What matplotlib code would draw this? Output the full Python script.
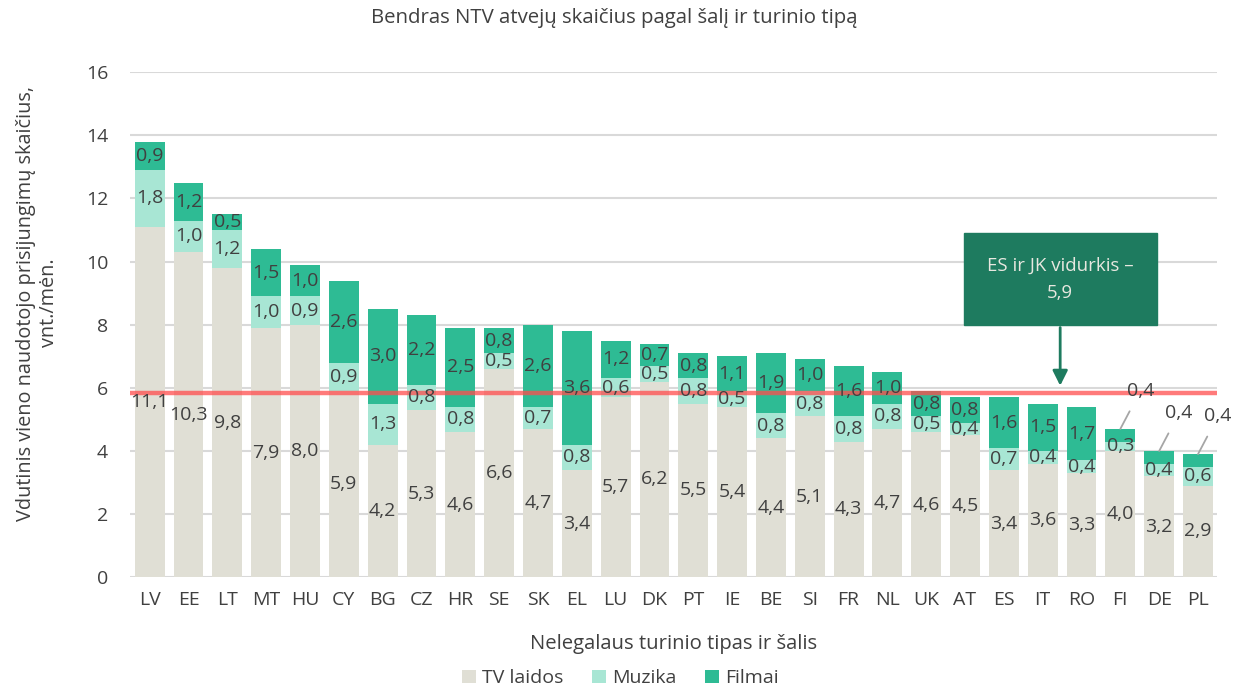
import numpy as np
import matplotlib.pyplot as plt

plt.rcParams['font.family'] = ['Open Sans', 'DejaVu Sans']

# Data
countries = ["LV", "EE", "LT", "MT", "HU", "CY", "BG", "CZ", "HR", "SE", "SK", "EL", "LU", "DK",
             "PT", "IE", "BE", "SI", "FR", "NL", "UK", "AT", "ES", "IT", "RO", "FI", "DE", "PL"]
tv = [11.1, 10.3, 9.8, 7.9, 8.0, 5.9, 4.2, 5.3, 4.6, 6.6, 4.7, 3.4, 5.7, 6.2,
      5.5, 5.4, 4.4, 5.1, 4.3, 4.7, 4.6, 4.5, 3.4, 3.6, 3.3, 4.0, 3.2, 2.9]
muzika = [1.8, 1.0, 1.2, 1.0, 0.9, 0.9, 1.3, 0.8, 0.8, 0.5, 0.7, 0.8, 0.6, 0.5,
          0.8, 0.5, 0.8, 0.8, 0.8, 0.8, 0.5, 0.4, 0.7, 0.4, 0.4, 0.3, 0.4, 0.6]
filmai = [0.9, 1.2, 0.5, 1.5, 1.0, 2.6, 3.0, 2.2, 2.5, 0.8, 2.6, 3.6, 1.2, 0.7,
          0.8, 1.1, 1.9, 1.0, 1.6, 1.0, 0.8, 0.8, 1.6, 1.5, 1.7, 0.4, 0.4, 0.4]
average = 5.85
average_label = "ES ir JK vidurkis –\n5,9"

c_tv = "#E0DFD5"
c_muz = "#A8E6D4"
c_film = "#2EBB94"
c_text = "#404040"

x = np.arange(len(countries))
tv = np.array(tv)
muzika = np.array(muzika)
filmai = np.array(filmai)

fig = plt.figure(figsize=(12.41, 6.88), dpi=100)
ax = fig.add_axes([0.105, 0.161, 0.876, 0.734])

w = 0.77
b1 = ax.bar(x, tv, w, color=c_tv, label="TV laidos", zorder=2)
b2 = ax.bar(x, muzika, w, bottom=tv, color=c_muz, label="Muzika", zorder=2)
b3 = ax.bar(x, filmai, w, bottom=tv + muzika, color=c_film, label="Filmai", zorder=2)

def fmt(v):
    return f"{v:.1f}".replace(".", ",")

fs = 14
for i in range(len(x)):
    ax.text(x[i], tv[i] / 2, fmt(tv[i]), ha="center", va="center", fontsize=fs, color=c_text, zorder=5)
    ax.text(x[i], tv[i] + muzika[i] / 2, fmt(muzika[i]), ha="center", va="center", fontsize=fs,
            color=c_text, zorder=5)
    if filmai[i] > 0.45:
        ax.text(x[i], tv[i] + muzika[i] + filmai[i] / 2, fmt(filmai[i]), ha="center", va="center",
                fontsize=fs, color=c_text, zorder=5)
    else:
        top = tv[i] + muzika[i] + filmai[i]
        ax.annotate(fmt(filmai[i]), xy=(x[i], top), xytext=(20, 38), textcoords="offset pixels",
                    ha="center", va="center", fontsize=fs, color=c_text, zorder=5,
                    arrowprops=dict(arrowstyle="-", color="#A6A6A6", lw=1.3, shrinkA=7, shrinkB=0))

# average line
ax.axhline(average, color="#FF4D4D", lw=3.2, alpha=0.75, zorder=4)

# callout box
ax.annotate("", xy=(23.45, 5.98), xytext=(23.45, 8.0),
            arrowprops=dict(arrowstyle="-|>,head_width=0.45,head_length=0.9", color="#1E7B5F", lw=2),
            zorder=6)
ax.text(23.45, 9.44, average_label, ha="center", va="center", fontsize=13.4, color="#E8E8E0",
        linespacing=1.7, zorder=7,
        bbox=dict(boxstyle="square,pad=1.25", facecolor="#1E7B5F", edgecolor="#1E7B5F"))

ax.set_xlim(-0.5, len(x) - 0.5)
ax.set_ylim(0, 16)
ax.set_yticks(np.arange(0, 17, 2))
ax.set_xticks(x)
ax.set_xticklabels(countries)
ax.tick_params(length=0, labelsize=14, colors=c_text)
ax.tick_params(axis="y", pad=16)
ax.tick_params(axis="x", pad=10)
ax.grid(axis="y", color="#D9D9D9", lw=1.5, zorder=0)
for s in ax.spines.values():
    s.set_visible(False)

ax.set_xlabel("Nelegalaus turinio tipas ir šalis", fontsize=14.6, color=c_text, labelpad=18)
ax.set_ylabel("Vdutinis vieno naudotojo prisijungimų skaičius,\nvnt./mėn.", fontsize=14.3,
              color=c_text)
ax.yaxis.set_label_coords(-0.066, 0.543)
fig.text(0.495, 0.974, "Bendras NTV atvejų skaičius pagal šalį ir turinio tipą", ha="center",
         va="center", fontsize=14.7, color=c_text)

fig.legend(handles=[b1, b2, b3], loc="center", bbox_to_anchor=(0.5, 0.014), ncol=3, frameon=False,
           fontsize=14, handlelength=0.7, handleheight=0.7, handletextpad=0.3, columnspacing=1.5,
           labelcolor=c_text)

fig.savefig("out.png", dpi=100)
